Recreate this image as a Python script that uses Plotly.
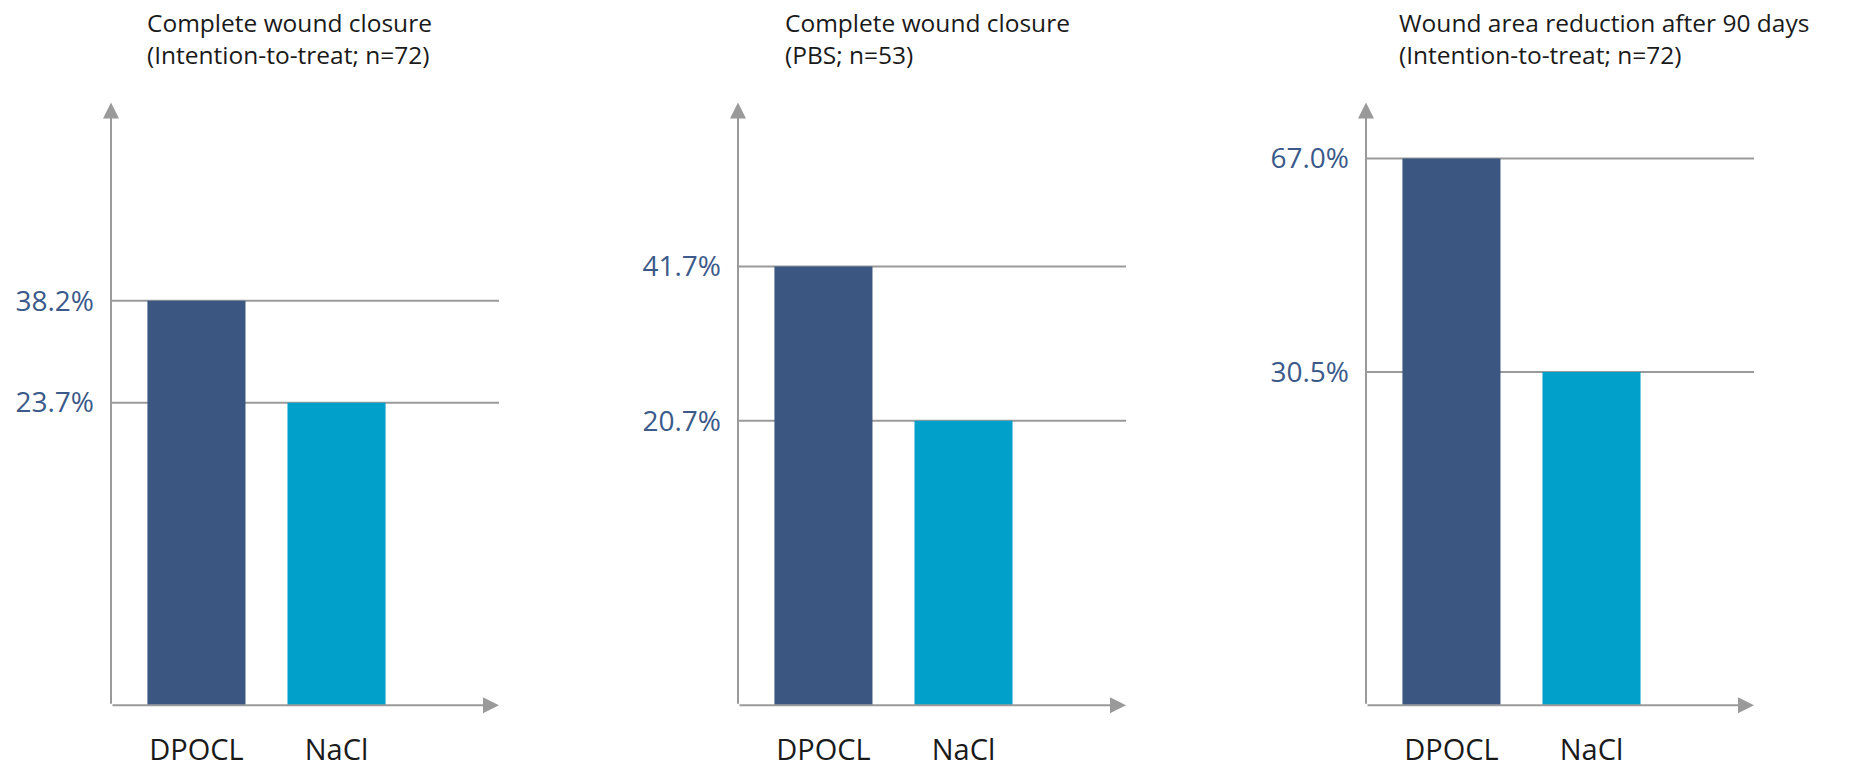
import plotly.graph_objects as go

# ---- data ----
categories = ["DPOCL", "NaCl"]
panel_titles = [
    "Complete wound closure<br>(Intention-to-treat; n=72)",
    "Complete wound closure<br>(PBS; n=53)",
    "Wound area reduction after 90 days<br>(Intention-to-treat; n=72)",
]
# value labels shown on the y axes
values_p1 = [38.2, 23.7]
values_p2 = [41.7, 20.7]
values_p3 = [67.0, 30.5]
# drawn bar heights (chart is not to scale), axis 0-100
heights_p1 = [67.1, 50.2]
heights_p2 = [72.8, 47.2]
heights_p3 = [90.7, 55.3]

values = [values_p1, values_p2, values_p3]
heights = [heights_p1, heights_p2, heights_p3]

bar_colors = ["#3B5680", "#00A0CA"]
axis_color = "#9A9A9A"
label_color = "#3B5A8A"
text_color = "#1A1A1A"
FONT = "Open Sans"

W, H = 1863, 768
x_left_px = [111, 738, 1366]
x_width_px = 388
y_bottom_px, y_top_px = 709, 103
title_x_px = [145, 783, 1397]
title_top_px = 4

XR = [-0.61, 2.16]
YR = [0, 100]

fig = go.Figure()
layout = dict(
    width=W, height=H,
    margin=dict(l=0, r=0, t=0, b=0),
    paper_bgcolor="white", plot_bgcolor="white",
    showlegend=False,
    font=dict(family=FONT, color=text_color),
)
shapes = []
annotations = []

for i in range(3):
    n = "" if i == 0 else str(i + 1)
    xa, ya = "x" + n, "y" + n
    fig.add_trace(go.Bar(
        x=[0, 1], y=heights[i],
        marker=dict(color=bar_colors, line=dict(width=0)),
        width=0.7,
        xaxis=xa, yaxis=ya,
        hoverinfo="skip",
    ))
    layout["xaxis" + n] = dict(
        domain=[x_left_px[i] / W, (x_left_px[i] + x_width_px) / W],
        range=XR, anchor=ya,
        tickmode="array", tickvals=[0, 1], ticktext=categories,
        tickfont=dict(family=FONT, size=29, color=text_color),
        showgrid=False, zeroline=False, showline=False, ticks="",
        ticklabelstandoff=25, fixedrange=True,
    )
    layout["yaxis" + n] = dict(
        domain=[(H - y_bottom_px) / H, (H - y_top_px) / H],
        range=YR, anchor=xa,
        tickmode="array", tickvals=heights[i],
        ticktext=[f"{v:.1f}%" for v in values[i]],
        tickfont=dict(family=FONT, size=28, color=label_color),
        showgrid=False, zeroline=False, showline=False, ticks="",
        ticklabelstandoff=16, fixedrange=True,
    )
    # horizontal reference lines at each bar top
    for h in heights[i]:
        shapes.append(dict(
            type="line", xref=xa, yref=ya,
            x0=XR[0], x1=XR[1], y0=h, y1=h,
            line=dict(color=axis_color, width=2), layer="below",
        ))
    # axis arrows
    annotations.append(dict(
        xref=xa, yref=ya, axref=xa, ayref=ya,
        x=XR[0], y=YR[1], ax=XR[0], ay=YR[0],
        text="", showarrow=True, arrowhead=2, arrowsize=1.6,
        arrowwidth=2, arrowcolor=axis_color, standoff=0, startstandoff=0,
    ))
    annotations.append(dict(
        xref=xa, yref=ya, axref=xa, ayref=ya,
        x=XR[1], y=YR[0], ax=XR[0], ay=YR[0],
        text="", showarrow=True, arrowhead=2, arrowsize=1.6,
        arrowwidth=2, arrowcolor=axis_color, standoff=0, startstandoff=0,
    ))
    # panel title
    annotations.append(dict(
        xref="paper", yref="paper",
        x=title_x_px[i] / W, y=1 - title_top_px / H,
        xanchor="left", yanchor="top", align="left",
        text=panel_titles[i], showarrow=False,
        font=dict(family=FONT, size=24.5, color=text_color),
    ))

layout["shapes"] = shapes
layout["annotations"] = annotations
fig.update_layout(**layout)
fig.write_html(
    "out.html",
    config={"displayModeBar": False},
    post_script="document.body.style.margin='0';document.body.style.overflow='hidden';",
)
